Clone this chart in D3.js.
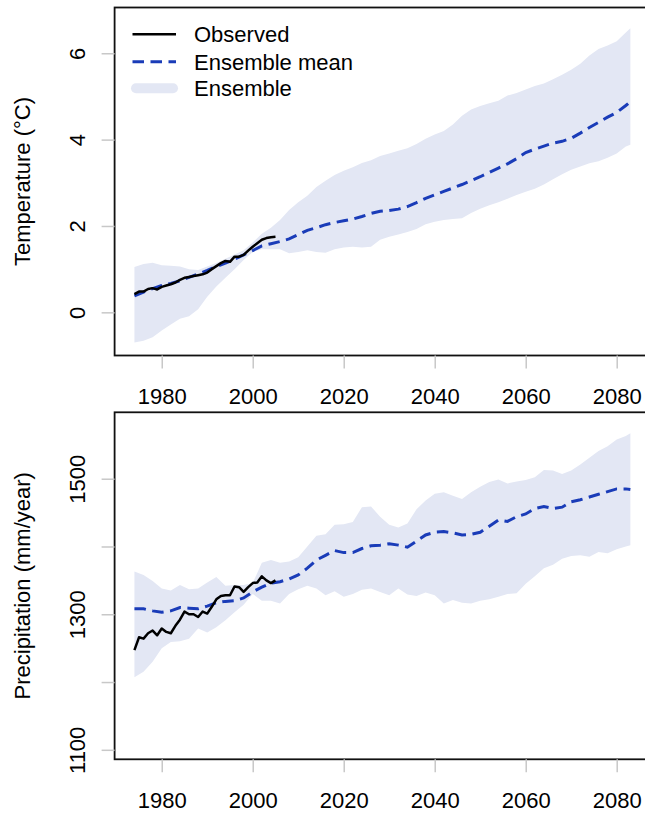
<!DOCTYPE html>
<html>
<head>
<meta charset="utf-8">
<script src="https://cdn.jsdelivr.net/npm/d3@7"></script>
<style>
  body { margin: 0; background: #fff; }
  svg { display: block; font-family: "Liberation Sans", Arial, Helvetica, sans-serif; }
</style>
</head>
<body>
<svg id="chart" width="645" height="814"></svg>
<script>
// ---- data ----
const years = [
  1974, 1976, 1978, 1980, 1982, 1984, 1986, 1988, 1990, 1992,
  1994, 1996, 1998, 2000, 2002, 2004, 2006, 2008, 2010, 2012,
  2014, 2016, 2018, 2020, 2022, 2024, 2026, 2028, 2030, 2032,
  2034, 2036, 2038, 2040, 2042, 2044, 2046, 2048, 2050, 2052,
  2054, 2056, 2058, 2060, 2062, 2064, 2066, 2068, 2070, 2072,
  2074, 2076, 2078, 2080, 2082, 2083
];
const obsYears = [
  1974, 1975, 1976, 1977, 1978, 1979, 1980, 1981, 1982, 1983,
  1984, 1985, 1986, 1987, 1988, 1989, 1990, 1991, 1992, 1993,
  1994, 1995, 1996, 1997, 1998, 1999, 2000, 2001, 2002, 2003,
  2004, 2005
];

// temperature (°C)
const tempHigh = [
  1.05, 1.12, 1.15, 1.09, 1.08, 1.06, 1.00, 0.98, 1.06, 1.14,
  1.24, 1.34, 1.44, 1.62, 1.82, 1.96, 2.14, 2.37, 2.55, 2.70,
  2.90, 3.05, 3.18, 3.28, 3.36, 3.46, 3.52, 3.62, 3.68, 3.74,
  3.80, 3.90, 4.02, 4.12, 4.20, 4.35, 4.55, 4.70, 4.78, 4.84,
  4.90, 5.02, 5.08, 5.16, 5.24, 5.30, 5.40, 5.50, 5.62, 5.76,
  5.95, 6.10, 6.18, 6.28, 6.48, 6.58
];
const tempLow = [
  -0.70, -0.66, -0.58, -0.42, -0.28, -0.15, -0.09, 0.07, 0.36, 0.60,
  0.80, 1.00, 1.21, 1.40, 1.46, 1.46, 1.46, 1.37, 1.40, 1.44,
  1.40, 1.38, 1.46, 1.50, 1.52, 1.50, 1.52, 1.68, 1.75, 1.80,
  1.86, 1.93, 2.04, 2.10, 2.14, 2.16, 2.18, 2.30, 2.40, 2.48,
  2.55, 2.63, 2.72, 2.79, 2.86, 2.96, 3.08, 3.20, 3.30, 3.38,
  3.45, 3.50, 3.58, 3.68, 3.84, 3.88
];
const tempMean = [
  0.38, 0.47, 0.55, 0.62, 0.67, 0.73, 0.81, 0.89, 0.97, 1.06,
  1.14, 1.23, 1.33, 1.43, 1.54, 1.59, 1.64, 1.70, 1.80, 1.90,
  1.96, 2.03, 2.08, 2.12, 2.16, 2.22, 2.29, 2.34, 2.36, 2.39,
  2.45, 2.54, 2.64, 2.72, 2.80, 2.88, 2.96, 3.05, 3.14, 3.24,
  3.34, 3.44, 3.56, 3.70, 3.78, 3.85, 3.92, 3.96, 4.03, 4.15,
  4.28, 4.40, 4.52, 4.63, 4.79, 4.88
];
const tempObs = [
  0.42, 0.48, 0.48, 0.54, 0.56, 0.53, 0.59, 0.62, 0.65, 0.69,
  0.75, 0.80, 0.82, 0.84, 0.86, 0.88, 0.92, 1.00, 1.07, 1.14,
  1.19, 1.17, 1.29, 1.29, 1.33, 1.43, 1.52, 1.60, 1.68, 1.72,
  1.74, 1.75
];

// precipitation (mm/year)
const precHigh = [
  1363, 1358, 1349, 1338, 1335, 1343, 1337, 1338, 1347, 1355,
  1342, 1343, 1343, 1346, 1376, 1380, 1376, 1378, 1384, 1400,
  1416, 1418, 1432, 1433, 1436, 1458, 1459, 1444, 1432, 1428,
  1434, 1455, 1468, 1478, 1480, 1475, 1470, 1480, 1488, 1495,
  1499, 1493, 1496, 1498, 1502, 1513, 1512, 1507, 1512, 1521,
  1531, 1541, 1548, 1558, 1563, 1567
];
const precLow = [
  1207, 1215, 1230, 1250, 1259, 1260, 1264, 1279, 1273, 1281,
  1291, 1303, 1314, 1330, 1320, 1320, 1316, 1330, 1337, 1342,
  1338, 1328, 1334, 1326, 1330, 1336, 1338, 1333, 1328, 1338,
  1329, 1327, 1332, 1328, 1316, 1321, 1317, 1316, 1320, 1322,
  1326, 1330, 1331, 1345, 1356, 1368, 1373, 1382, 1386, 1387,
  1385, 1392, 1390, 1396, 1400, 1402
];
const precMean = [
  1308, 1308, 1305, 1303, 1305, 1310, 1309, 1308, 1312, 1317,
  1319, 1320, 1324, 1333, 1340, 1346, 1348, 1352, 1358, 1368,
  1380, 1387, 1394, 1391, 1391, 1397, 1401, 1402, 1404, 1402,
  1399, 1408, 1417, 1421, 1422, 1420, 1417, 1418, 1421, 1430,
  1439, 1437, 1444, 1448, 1456, 1459, 1456, 1458, 1466, 1469,
  1473, 1477, 1481, 1485, 1485, 1484
];
const precObs = [
  1247, 1266, 1264, 1272, 1276, 1269, 1279, 1274, 1272, 1283,
  1292, 1304, 1300, 1300, 1296, 1304, 1301, 1311, 1322, 1327,
  1328, 1328, 1341, 1340, 1333, 1340, 1346, 1347, 1356, 1350,
  1346, 1350
];

const xTicks = [1980, 2000, 2020, 2040, 2060, 2080];
const tempTicks = [0, 2, 4, 6];
const precTicks = [1100, 1200, 1300, 1400, 1500];
const precTickLabels = [1100, 1300, 1500];

const legendLabels = ["Observed", "Ensemble mean", "Ensemble"];

// ---- styling ----
const BAND = "#e3e7f4";
const MEAN = "#1a3cb8";
const OBS = "#000";
const TICK = "#c8c8c8";
const DASH = "11.5,6.5";

const svg = d3.select("#chart");
const plotLeft = 114.6, plotRight = 650.2;
const x = d3.scaleLinear().domain([1969.64, 2087.36]).range([plotLeft, plotRight]);

function panel(opt) {
  const y = d3.scaleLinear().domain(opt.domain).range([opt.bottom, opt.top]);
  const g = svg.append("g");

  const rows = years.map((yr, i) => ({ yr, lo: opt.low[i], hi: opt.high[i], m: opt.mean[i] }));
  const obs = obsYears.map((yr, i) => ({ yr, v: opt.obs[i] }));

  // ensemble band
  g.append("path")
    .datum(rows)
    .attr("fill", BAND)
    .attr("d", d3.area().x(d => x(d.yr)).y0(d => y(d.lo)).y1(d => y(d.hi)));

  // ensemble mean
  g.append("path")
    .datum(rows)
    .attr("fill", "none")
    .attr("stroke", MEAN)
    .attr("stroke-width", 3)
    .attr("stroke-dasharray", DASH)
    .attr("d", d3.line().x(d => x(d.yr)).y(d => y(d.m)));

  // observed
  g.append("path")
    .datum(obs)
    .attr("fill", "none")
    .attr("stroke", OBS)
    .attr("stroke-width", 2.5)
    .attr("stroke-linejoin", "round")
    .attr("d", d3.line().x(d => x(d.yr)).y(d => y(d.v)));

  // box
  g.append("rect")
    .attr("x", plotLeft).attr("y", opt.top)
    .attr("width", plotRight - plotLeft).attr("height", opt.bottom - opt.top)
    .attr("fill", "none").attr("stroke", "#111").attr("stroke-width", 1.8);

  // x axis
  g.append("g")
    .attr("transform", `translate(0,${opt.bottom})`)
    .call(d3.axisBottom(x).tickValues(xTicks).tickSize(13).tickFormat(d3.format("d")))
    .call(a => a.select(".domain").remove())
    .call(a => a.attr("font-size", 22).attr("font-family", null))
    .call(a => a.selectAll("line").attr("stroke", TICK).attr("stroke-width", 1.5))
    .call(a => a.selectAll("text").attr("y", 48.5).attr("dy", null).attr("fill", "#000"));

  // y axis
  g.append("g")
    .attr("transform", `translate(${plotLeft},0)`)
    .call(d3.axisLeft(y).tickValues(opt.ticks).tickSize(13)
      .tickFormat(d => opt.labels.includes(d) ? d : ""))
    .call(a => a.select(".domain").remove())
    .call(a => a.attr("font-size", 22).attr("font-family", null))
    .call(a => a.selectAll("line").attr("stroke", TICK).attr("stroke-width", 1.5))
    .call(a => a.selectAll("text")
      .attr("x", null).attr("dy", null)
      .attr("text-anchor", "middle").attr("fill", "#000")
      .attr("transform", "translate(-30,0) rotate(-90)"));

  // y title
  g.append("text")
    .attr("transform", `translate(30,${(opt.top + opt.bottom) / 2}) rotate(-90)`)
    .attr("text-anchor", "middle")
    .attr("font-size", 22)
    .text(opt.title);

  return g;
}

const topPanel = panel({
  top: 7.5, bottom: 355.5, domain: [-1.0, 7.06],
  low: tempLow, high: tempHigh, mean: tempMean, obs: tempObs,
  ticks: tempTicks, labels: tempTicks, title: "Temperature (°C)"
});

panel({
  top: 412.3, bottom: 759.3, domain: [1086, 1598],
  low: precLow, high: precHigh, mean: precMean, obs: precObs,
  ticks: precTicks, labels: precTickLabels, title: "Precipitation (mm/year)"
});

// legend (top panel)
const legend = topPanel.append("g");
const rowsY = [34.3, 61.7, 88.3];
legend.append("line").attr("x1", 132.5).attr("x2", 176).attr("y1", rowsY[0]).attr("y2", rowsY[0])
  .attr("stroke", OBS).attr("stroke-width", 2.5);
legend.append("line").attr("x1", 132.5).attr("x2", 176).attr("y1", rowsY[1]).attr("y2", rowsY[1])
  .attr("stroke", MEAN).attr("stroke-width", 3).attr("stroke-dasharray", DASH);
legend.append("line").attr("x1", 136).attr("x2", 173).attr("y1", rowsY[2]).attr("y2", rowsY[2])
  .attr("stroke", BAND).attr("stroke-width", 10).attr("stroke-linecap", "round");
legend.selectAll("text.lab")
  .data(legendLabels)
  .join("text")
  .attr("class", "lab")
  .attr("x", 194)
  .attr("y", (d, i) => rowsY[i] + 8)
  .attr("font-size", 22)
  .text(d => d);
</script>
</body>
</html>
